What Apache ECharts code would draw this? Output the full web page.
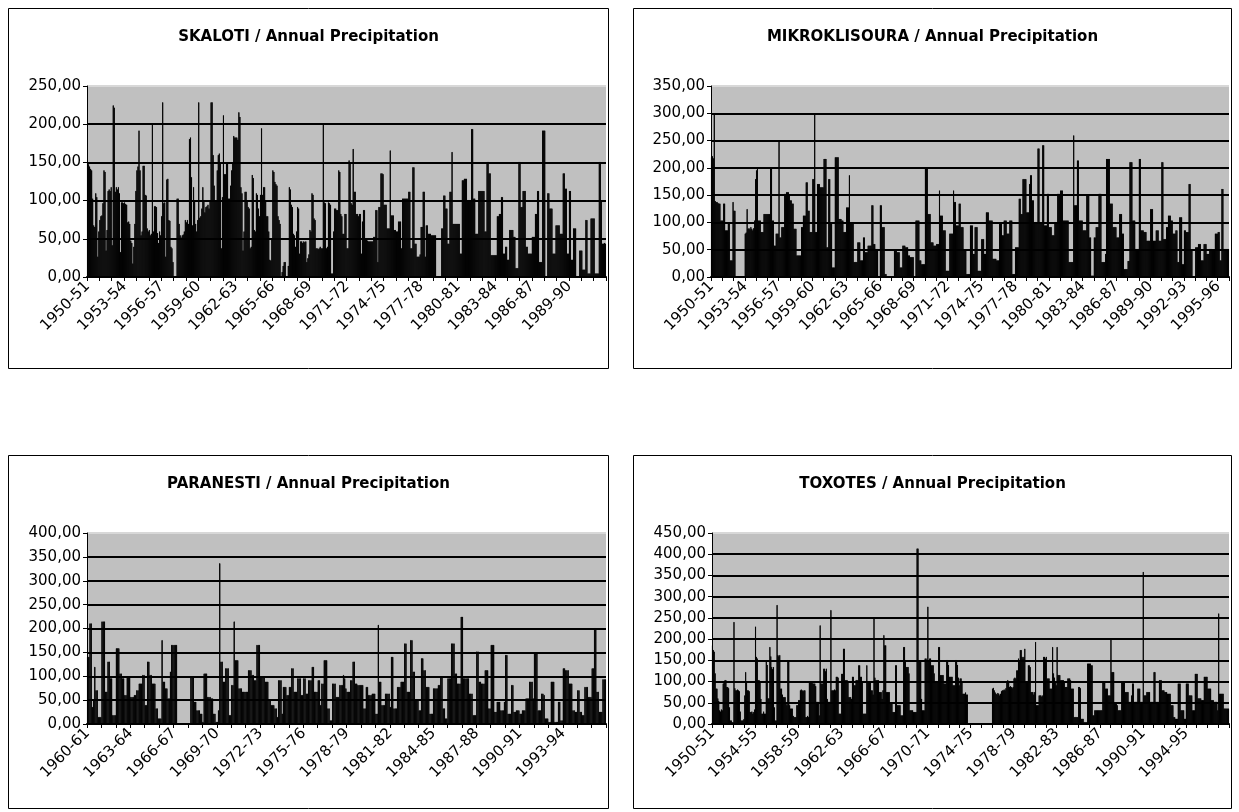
<!DOCTYPE html>
<html><head><meta charset="utf-8">
<script src="https://cdn.jsdelivr.net/npm/echarts@6/dist/echarts.min.js"></script>
<style>html,body{margin:0;padding:0;background:#fff}#c{width:1239px;height:812px}</style>
</head><body><div id="c"></div>
<script>
// ---------- titles ----------
const skalotiTitle = 'SKALOTI / Annual Precipitation';
const mikroTitle = 'MIKROKLISOURA / Annual Precipitation';
const paranestiTitle = 'PARANESTI / Annual Precipitation';
const toxotesTitle = 'TOXOTES / Annual Precipitation';

// ---------- first season of each record and number of seasons ----------
const skalotiStart = 1950, skalotiSeasons = 42;
const mikroStart = 1950, mikroSeasons = 46;
const paranestiStart = 1960, paranestiSeasons = 36;
const toxotesStart = 1950, toxotesSeasons = 48;

// ---------- y axis tick settings ----------
const skalotiMax = 250, mikroMax = 350, paranestiMax = 400, toxotesMax = 450;
const yStep = 50;

// ---------- monthly precipitation (mm), one row = one hydrological year ----------
const skalotiValues = [
150,148,145,142,140,103,68,66,110,105,27,60,
75,80,81,97,140,138,35,62,113,115,113,118,
42,225,222,112,118,115,118,110,33,98,98,97,
98,96,95,72,73,70,48,45,18,40,70,113,
140,145,192,140,55,60,146,146,108,107,64,60,
62,55,57,200,60,93,93,92,58,45,60,55,
80,229,97,98,27,128,129,75,74,40,38,20,
0,0,0,103,103,70,55,52,55,56,60,75,
72,75,70,181,183,131,68,118,100,70,60,75,
229,78,80,90,118,100,85,92,93,95,90,100,
229,229,160,120,100,101,140,160,162,150,38,105,
212,135,135,150,150,103,103,120,140,150,185,183,
183,183,180,216,210,118,110,35,60,112,112,100,
92,90,38,40,134,130,62,60,110,108,90,80,
108,195,108,118,118,100,80,80,60,23,22,50,
140,138,125,122,120,80,75,70,0,7,15,20,
20,0,0,15,118,115,95,92,57,55,40,60,
92,90,31,47,47,45,47,46,47,20,25,30,
62,60,110,108,77,75,38,38,37,38,40,38,
38,200,98,97,38,40,98,97,95,5,5,60,
90,90,88,88,140,138,83,80,57,57,83,83,
38,38,153,150,97,95,168,112,112,83,83,80,
83,83,31,73,88,88,49,49,48,47,47,47,
47,47,53,53,88,88,20,92,92,136,136,135,
95,95,95,64,64,64,166,81,81,81,62,62,
60,60,73,73,73,38,103,103,103,103,103,103,
112,112,38,38,144,144,44,44,27,27,27,30,
66,66,112,112,27,68,68,57,57,57,55,55,
55,55,55,0,0,0,0,0,64,64,107,107,
90,90,44,44,112,112,164,70,70,70,70,70,
70,70,31,31,127,127,129,129,129,101,101,101,
101,194,194,103,103,57,57,57,113,113,113,113,
113,113,60,60,151,151,136,136,29,29,29,29,
29,29,80,80,83,83,105,105,31,31,40,40,
23,23,62,62,62,62,53,53,12,12,12,151,
151,92,92,113,113,113,40,40,31,31,31,31,
53,53,53,83,83,113,113,20,20,20,192,192,
192,0,0,110,110,90,90,90,31,31,31,68,
68,68,68,57,57,57,136,136,116,116,31,31,
113,113,23,23,64,64,64,0,0,0,35,35,
35,10,10,10,75,75,5,5,5,77,77,77,
77,5,5,5,5,151,151,100,44,44,45,44
];

const mikroValues = [
220,222,218,300,140,138,138,136,135,135,104,104,
104,135,135,86,86,86,98,98,31,31,31,138,
122,122,0,0,0,0,0,0,0,0,0,0,
80,82,125,89,90,88,92,89,86,90,104,180,
196,199,104,104,104,83,83,83,116,116,116,116,
116,116,116,199,199,104,104,58,58,80,80,80,
251,73,73,92,92,92,153,153,156,156,156,150,
141,141,135,135,89,89,89,40,40,40,40,40,
92,92,113,113,113,174,174,122,122,83,83,83,
180,180,300,83,83,171,171,171,165,165,165,165,
217,217,217,55,55,180,180,98,98,18,18,18,
220,220,220,220,107,107,107,104,104,83,83,83,
128,128,128,187,101,101,101,101,28,28,28,28,
64,64,64,31,31,31,73,73,46,46,46,58,
58,58,58,132,132,61,61,52,52,52,0,0,
132,132,92,92,92,6,6,0,0,0,0,0,
0,0,0,49,49,49,46,46,46,18,18,18,
58,58,58,55,55,55,40,40,37,37,37,37,
0,0,104,104,104,104,31,31,24,24,24,24,
199,199,199,116,116,116,64,64,64,58,58,58,
61,61,61,159,113,113,113,86,86,86,12,12,
12,12,80,80,80,80,159,138,138,95,95,95,
135,135,92,92,92,49,49,49,6,6,6,6,
95,95,95,43,43,92,92,92,12,12,12,12,
70,70,70,43,43,119,119,119,104,104,104,104,
34,34,34,34,31,31,31,98,98,98,77,77,
104,104,104,80,80,80,104,104,104,6,6,6,
55,55,55,55,144,144,116,116,180,180,180,180,
119,119,119,171,187,187,141,141,101,101,101,101,
236,236,101,101,101,242,242,95,95,95,153,153,
92,92,92,77,77,77,101,101,101,153,153,153,
159,159,159,104,104,104,104,104,104,28,28,28,
28,28,260,132,132,132,214,214,104,104,104,104,
86,86,86,86,150,150,150,73,73,3,3,3,
73,73,92,92,92,153,153,153,28,28,28,28,
43,217,217,217,217,135,135,135,92,92,92,92,
73,73,73,116,116,116,80,80,15,15,15,15,
30,30,211,211,211,104,104,104,52,52,52,52,
217,217,86,86,86,83,83,83,67,67,67,67,
125,125,125,67,67,67,86,86,86,67,67,67,
211,211,70,70,70,92,92,113,113,113,104,104,
80,80,80,86,86,28,28,110,110,110,24,24,
86,86,83,83,83,171,171,49,49,0,0,0,
55,55,55,61,61,61,31,31,31,61,61,61,
43,43,43,52,52,52,49,49,49,80,80,80,
83,83,31,31,162,162,52,52,52,52,52,52
];

const paranestiValues = [
141,141,211,211,36,50,120,71,71,15,15,15,
215,215,215,68,68,131,131,96,96,19,19,19,
159,159,159,106,106,96,96,61,61,99,99,99,
57,57,57,61,61,71,71,85,85,85,103,103,
40,40,131,131,103,103,85,85,85,33,33,12,
12,12,176,89,89,75,75,54,54,110,166,166,
166,166,166,null,null,null,null,null,null,null,null,null,
null,null,99,99,99,47,47,29,29,29,22,22,
5,106,106,106,57,57,57,54,54,22,22,5,
5,29,337,131,131,89,89,117,117,117,19,19,
82,82,215,134,134,134,75,75,75,68,68,68,
68,68,113,113,113,103,103,92,92,166,166,166,
99,99,99,99,89,89,89,50,50,40,40,40,
33,33,15,92,92,92,22,78,78,78,61,61,
78,78,117,117,68,68,68,96,96,96,61,61,
96,96,64,64,92,92,92,120,120,68,68,68,
92,92,40,85,85,134,134,134,33,33,8,8,
85,85,85,57,57,57,82,82,82,103,96,75,
68,68,68,92,92,131,131,85,85,82,82,82,
82,82,33,33,78,78,61,61,61,64,64,64,
22,22,208,89,89,40,40,40,64,64,64,64,
36,141,141,33,33,33,78,78,78,89,89,89,
169,169,68,68,68,176,176,110,110,50,50,50,
29,29,138,138,113,113,78,78,78,22,22,22,
75,75,75,75,82,82,99,99,33,33,12,12,
96,96,96,169,169,169,106,106,85,85,85,225,
225,96,96,96,96,96,64,64,64,19,19,19,
152,152,89,89,85,85,85,113,113,113,33,33,
166,166,166,26,26,47,47,47,29,29,29,47,
145,145,22,22,22,82,82,26,26,29,29,29,
22,22,29,29,29,54,54,54,89,89,89,54,
148,148,148,29,29,29,64,64,61,12,12,12,
5,5,89,89,89,5,5,5,47,47,8,8,
117,117,113,113,113,85,85,85,29,29,26,26,
71,71,26,26,19,19,78,78,78,57,57,57,
117,117,201,201,68,68,26,26,26,94,94,94
];

const toxotesValues = [
186,175,171,120,84,84,61,55,33,30,35,33,
96,100,104,104,88,88,85,40,9,9,5,5,
241,85,80,80,82,80,78,30,9,9,9,12,
68,123,100,80,80,78,29,29,30,25,29,35,
230,159,155,104,104,100,60,25,25,30,25,25,
151,140,61,61,182,160,135,130,135,40,9,9,
281,163,160,163,84,84,70,64,64,64,50,45,
151,150,45,37,37,37,20,17,17,17,45,45,
57,57,80,82,80,78,80,80,17,17,20,17,
100,100,100,98,96,96,96,90,53,53,53,21,
233,96,96,96,131,131,125,131,60,53,53,53,
269,80,80,80,82,80,112,112,110,25,25,25,
119,119,178,178,104,104,104,100,64,64,64,60,
112,112,92,92,104,104,104,139,139,112,112,100,
25,25,25,25,139,100,100,100,100,80,80,70,
249,110,104,104,104,104,76,76,76,60,80,210,
186,186,76,76,76,76,49,49,49,29,29,29,
139,139,45,45,45,45,21,21,21,182,182,150,
135,135,135,120,33,33,33,33,29,29,29,29,
414,414,147,147,147,60,33,33,33,155,155,150,
277,150,155,155,139,139,139,120,100,100,100,100,
182,182,116,116,116,116,96,96,96,151,151,140,
112,112,112,112,92,92,92,151,151,140,110,92,
108,108,100,72,72,72,75,70,70,null,null,null,
null,null,null,null,null,null,null,null,null,null,null,null,
null,null,null,null,null,null,null,null,null,null,null,null,
84,86,80,75,72,70,74,72,68,72,78,80,
80,82,80,85,100,104,100,88,90,88,85,88,
108,110,108,127,127,155,150,175,175,159,155,159,
178,100,100,100,139,139,135,76,76,76,70,76,
194,45,45,45,68,68,68,65,68,159,159,155,
159,108,108,108,84,84,84,182,120,110,100,92,
182,116,116,116,104,104,104,104,100,88,88,88,
108,108,108,104,84,84,84,17,17,17,17,17,
88,88,85,13,13,13,5,5,5,5,143,143,
143,143,139,139,21,21,33,33,33,33,33,33,
33,33,33,100,100,100,84,84,84,68,68,68,
202,123,123,123,49,49,49,45,33,33,33,33,
100,100,100,100,76,76,76,76,53,53,53,68,
96,96,53,53,53,53,84,84,84,53,53,53,
359,68,68,68,76,76,76,76,53,53,53,53,
123,123,53,53,53,53,104,104,104,80,80,80,
76,76,76,72,72,72,72,45,45,45,17,17,
13,13,13,96,96,96,33,33,33,33,13,13,
96,96,96,68,68,68,68,33,33,33,119,119,
119,61,61,61,61,57,57,57,112,112,112,112,
84,84,84,84,57,57,57,53,53,53,53,33,
261,72,72,72,72,72,37,37,37,37,37,37
];

// ---------- helpers ----------
function seasonCategories(start, n) {
  const out = [];
  for (let i = 0; i < n; i++) {
    const y = start + i;
    const lbl = y + '-' + String((y + 1) % 100).padStart(2, '0');
    for (let m = 0; m < 12; m++) out.push(lbl);
  }
  return out;
}

const FONT = '"DejaVu Sans", "Liberation Sans", Arial, sans-serif';

const panels = [
  {title: skalotiTitle, start: skalotiStart, n: skalotiSeasons, values: skalotiValues, max: skalotiMax, labelEvery: 3,
   box: [8.5, 8.5, 600, 360], grid: {left: 87, top: 86, width: 519, height: 191}},
  {title: mikroTitle, start: mikroStart, n: mikroSeasons, values: mikroValues, max: mikroMax, labelEvery: 3,
   box: [633.5, 8.5, 598, 360], grid: {left: 711, top: 86, width: 518, height: 191}},
  {title: paranestiTitle, start: paranestiStart, n: paranestiSeasons, values: paranestiValues, max: paranestiMax, labelEvery: 3,
   box: [8.5, 455.5, 600, 353], grid: {left: 87, top: 533, width: 519, height: 191}},
  {title: toxotesTitle, start: toxotesStart, n: toxotesSeasons, values: toxotesValues, max: toxotesMax, labelEvery: 4,
   box: [633.5, 455.5, 598, 353], grid: {left: 712, top: 533, width: 517, height: 191}}
];

const grid = [], xAxis = [], yAxis = [], series = [], graphic = [];
panels.forEach((p, i) => {
  grid.push(Object.assign({show: true, backgroundColor: '#c0c0c0', borderWidth: 0, containLabel: false}, p.grid));
  xAxis.push({
    type: 'category', gridIndex: i, data: seasonCategories(p.start, p.n),
    boundaryGap: true,
    axisLine: {show: true, lineStyle: {color: '#000', width: 2}},
    axisTick: {show: true, interval: 11, length: 4, lineStyle: {color: '#000'}},
    axisLabel: {interval: p.labelEvery * 12 - 1, rotate: 45, margin: 7, color: '#000',
      fontFamily: FONT, fontSize: 15},
    splitLine: {show: false}
  });
  const nLines = p.max / yStep + 1;
  const colors = [];
  for (let k = 0; k < nLines; k++) colors.push(k === nLines - 1 ? '#d8d8d8' : '#000');
  yAxis.push({
    type: 'value', gridIndex: i, min: 0, max: p.max, interval: yStep,
    axisLine: {show: true, lineStyle: {color: '#000'}},
    axisTick: {show: true, length: 4, lineStyle: {color: '#000'}},
    axisLabel: {color: '#000', fontFamily: FONT, fontSize: 15, margin: 6,
      formatter: v => v.toFixed(2).replace('.', ',')},
    splitLine: {show: true, lineStyle: {color: colors, width: 2}}
  });
  series.push({
    type: 'bar', xAxisIndex: i, yAxisIndex: i, data: p.values,
    barCategoryGap: '0%', itemStyle: {color: '#000', borderColor: '#000', borderWidth: 0.9}, silent: true
  });
  graphic.push({type: 'rect', z: 100, silent: true,
    shape: {x: p.box[0], y: p.box[1], width: p.box[2], height: p.box[3]},
    style: {fill: 'none', stroke: '#000', lineWidth: 1}});
  graphic.push({type: 'text', z: 100, silent: true,
    style: {x: p.box[0] + p.box[2] / 2, y: p.box[1] + 29, text: p.title, textAlign: 'center', textVerticalAlign: 'middle',
      font: 'bold 15px ' + FONT, fill: '#000'}});
});

const chart = echarts.init(document.getElementById('c'), null, {renderer: 'canvas'});
chart.setOption({animation: false, backgroundColor: '#fff', grid, xAxis, yAxis, series, graphic});
</script>
</body></html>
